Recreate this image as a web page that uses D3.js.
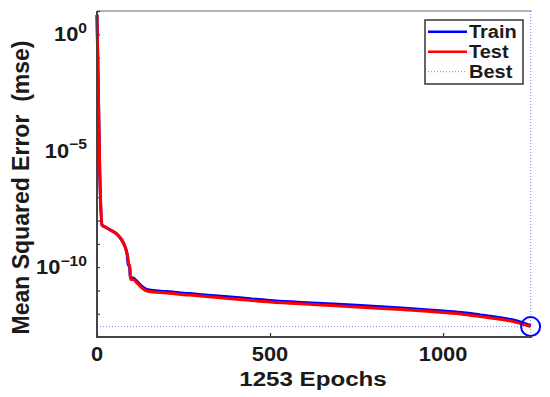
<!DOCTYPE html>
<html><head><meta charset="utf-8">
<script src="https://cdn.jsdelivr.net/npm/d3@7"></script>
<style>
html,body{margin:0;padding:0;background:#fff;}
svg text{font-family:"Liberation Sans",Arial,Helvetica,sans-serif;font-weight:bold;fill:#1a1a1a;}
</style></head>
<body><svg id="c" width="550" height="397"></svg>
<script>
// ---- data ----
const trainEpochs = [0, 8, 14, 25, 38, 55, 66, 75, 81, 86, 88, 90, 94, 96, 105, 115, 125, 135, 144, 200, 269, 340, 413, 500, 620, 750, 880, 1000, 1060, 1107, 1160, 1200, 1230, 1253];
const trainMse    = [6.8, 1.1e-6, 6.5e-9, 5.2e-9, 4.0e-9, 2.8e-9, 1.9e-9, 1.2e-9, 7.6e-10, 4.2e-10, 2.8e-10, 1.2e-10, 1.2e-10, 3.6e-11, 3.4e-11, 2.5e-11, 1.75e-11, 1.3e-11, 1.1e-11, 8.9e-12, 7.3e-12, 5.9e-12, 4.8e-12, 3.7e-12, 2.9e-12, 2.3e-12, 1.75e-12, 1.3e-12, 1.1e-12, 8.9e-13, 6.9e-13, 5.5e-13, 4.1e-13, 3.1e-13];
const testEpochs  = [0, 8, 15, 25, 38, 55, 66, 75, 81, 86, 89, 92, 95, 97, 105, 115, 125, 135, 144, 200, 269, 340, 413, 500, 620, 750, 880, 1000, 1060, 1107, 1160, 1200, 1230, 1253];
const testMse     = [6.8, 1.1e-6, 6.5e-9, 5.2e-9, 4.0e-9, 2.8e-9, 1.9e-9, 1.2e-9, 7.6e-10, 4.2e-10, 2.8e-10, 1.2e-10, 1.2e-10, 3.0e-11, 2.9e-11, 2.15e-11, 1.5e-11, 1.12e-11, 9.4e-12, 7.7e-12, 6.3e-12, 5.1e-12, 4.1e-12, 3.2e-12, 2.5e-12, 1.95e-12, 1.5e-12, 1.12e-12, 9.3e-13, 7.6e-13, 5.9e-13, 4.7e-13, 3.6e-13, 2.8e-13];
const bestEpoch = 1253;
const bestMse = 2.8e-13;
const xTicks = [0, 500, 1000];
const yTicksMajor = [0, -5, -10];          // exponents with labels
const yTicksMinor = [1,0,-1,-2,-3,-4,-5,-6,-7,-8,-9,-10,-11,-12,-13];
const legendLabels = ["Train", "Test", "Best"];
const xLabel = "1253 Epochs";
const yLabel = "Mean Squared Error\u00A0\u00A0(mse)";

// ---- layout ----
const svg = d3.select("#c");
const L = 97, R = 530.6, T = 11, B = 337;
const x = d3.scaleLinear().domain([0, 1253]).range([L, R]);
const y = d3.scaleLog().domain([1e-13, 1e1]).range([B, T]);

// frame
svg.append("line").attr("x1", L).attr("x2", R + 1).attr("y1", T).attr("y2", T)
  .attr("stroke", "#9a9a9a").attr("stroke-width", 1.5);

// best lines
svg.append("line").attr("x1", L).attr("x2", x(bestEpoch)).attr("y1", y(bestMse)).attr("y2", y(bestMse))
  .attr("stroke", "#8080ff").attr("stroke-width", 1).attr("stroke-dasharray", "1,2");
svg.append("line").attr("x1", x(bestEpoch)).attr("x2", x(bestEpoch)).attr("y1", T).attr("y2", B)
  .attr("stroke", "#8080ff").attr("stroke-width", 1).attr("stroke-dasharray", "1,2");

// axes
const yAxis = d3.axisLeft(y).tickValues(yTicksMinor.map(e => Math.pow(10, e))).tickSize(-3).tickFormat("");
const gy = svg.append("g").attr("transform", `translate(${L},0)`).call(yAxis);
gy.select(".domain").remove();
gy.selectAll(".tick line").attr("stroke", "#333").attr("stroke-width", 1.2);

const xAxis = d3.axisBottom(x).tickValues(xTicks).tickSize(-4).tickFormat("");
const gx = svg.append("g").attr("transform", `translate(0,${B})`).call(xAxis);
gx.select(".domain").remove();
gx.selectAll(".tick line").attr("stroke", "#333").attr("stroke-width", 1.2);

// lines
const lineGen = d3.line().x(d => x(d[0])).y(d => y(d[1])).curve(d3.curveMonotoneX);
const trainData = trainEpochs.map((e, i) => [e, trainMse[i]]);
const testData = testEpochs.map((e, i) => [e, testMse[i]]);
svg.append("path").datum(trainData).attr("d", lineGen).attr("fill", "none")
  .attr("stroke", "#0000ff").attr("stroke-width", 3).attr("stroke-linejoin", "round");
svg.append("path").datum(testData).attr("d", lineGen).attr("fill", "none")
  .attr("stroke", "#ff0000").attr("stroke-width", 3).attr("stroke-linejoin", "round");

// best circle
svg.append("circle").attr("cx", x(bestEpoch)).attr("cy", y(bestMse)).attr("r", 9.5)
  .attr("fill", "none").attr("stroke", "#0000ff").attr("stroke-width", 2);

// axis lines
svg.append("line").attr("x1", L).attr("x2", L).attr("y1", T).attr("y2", B + 1)
  .attr("stroke", "#444").attr("stroke-width", 2);
svg.append("line").attr("x1", L - 1).attr("x2", R + 1.5).attr("y1", B).attr("y2", B)
  .attr("stroke", "#444").attr("stroke-width", 2);

// x tick labels
xTicks.forEach(v => {
  svg.append("text").attr("transform", `translate(${x(v)},361) scale(1.12,1)`)
    .attr("text-anchor", "middle").attr("font-size", 19.5).text(v);
});
// y tick labels
yTicksMajor.forEach(e => {
  const t = svg.append("text").attr("transform", `translate(87,${y(Math.pow(10, e)) + 7}) scale(1.12,1)`)
    .attr("text-anchor", "end").attr("font-size", 19.5);
  t.append("tspan").text("10");
  t.append("tspan").attr("dy", -8.5).attr("font-size", 14).text(e === 0 ? "0" : "\u2212" + Math.abs(e));
});

// axis labels
svg.append("text").attr("transform", "translate(313,386) scale(1.15,1)")
  .attr("text-anchor", "middle").attr("font-size", 21).text(xLabel);
svg.append("text").attr("transform", "translate(28.5,187.5) rotate(-90)")
  .attr("text-anchor", "middle").attr("font-size", 23).text(yLabel);

// legend
const lg = svg.append("g");
lg.append("rect").attr("x", 425).attr("y", 20).attr("width", 98).attr("height", 64)
  .attr("fill", "#fff").attr("stroke", "#333").attr("stroke-width", 1.5);
const legColors = ["#0000ff", "#ff0000", "#8080ff"];
legendLabels.forEach((lab, i) => {
  const ly = 31.7 + i * 20;
  const ln = lg.append("line").attr("x1", 428).attr("x2", 467).attr("y1", ly).attr("y2", ly)
    .attr("stroke", legColors[i]).attr("stroke-width", i < 2 ? 2.5 : 1);
  if (i === 2) ln.attr("stroke-dasharray", "1,2");
  lg.append("text").attr("transform", `translate(469,${ly + 6}) scale(1.08,1)`)
    .attr("font-size", 18.5).text(lab);
});
</script></body></html>
